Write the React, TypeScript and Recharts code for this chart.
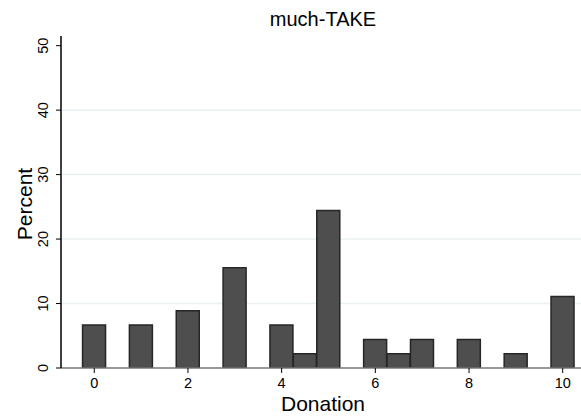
import { ComposedChart, Bar, XAxis, YAxis, CartesianGrid } from 'recharts'

const donations = [0, 1, 2, 3, 4, 4.5, 5, 6, 6.5, 7, 8, 9, 10]
const percents = [6.67, 6.67, 8.89, 15.56, 6.67, 2.22, 24.44, 4.44, 2.22, 4.44, 4.44, 2.22, 11.11]
const xTicks = [0, 2, 4, 6, 8, 10]
const yTicks = [0, 10, 20, 30, 40, 50]
const gridValues = [10, 20, 30, 40]

const data = donations.map((d, i) => ({ donation: d, percent: percents[i] }))

const font = 'Liberation Sans, Arial, sans-serif'

function YTick(props: any) {
    const { y, payload } = props
    const cx = 43
    return (
        <text
            x={cx}
            y={y}
            transform={`rotate(-90 ${cx} ${y})`}
            textAnchor="middle"
            dominantBaseline="central"
            fontSize={14.5}
            fontFamily={font}
            fill="#000"
        >
            {payload.value}
        </text>
    )
}

export default function App() {
    return (
        <div style={{ position: 'fixed', left: 0, top: 0, width: 581, height: 419, background: '#fff' }}>
            <div
                style={{
                    position: 'absolute', top: 8, left: 61, width: 524, textAlign: 'center',
                    fontFamily: font, fontSize: 20, lineHeight: '22px', color: '#000'
                }}
            >
                much-TAKE
            </div>
            <div
                style={{
                    position: 'absolute', top: 393, left: 61, width: 524, textAlign: 'center',
                    fontFamily: font, fontSize: 21, lineHeight: '22px', color: '#000'
                }}
            >
                Donation
            </div>
            <div
                style={{
                    position: 'absolute', left: 14, top: 204, width: 0, height: 0,
                    fontFamily: font, fontSize: 21, lineHeight: '22px', color: '#000'
                }}
            >
                <div style={{ position: 'absolute', transform: 'translate(-50%, -50%) rotate(-90deg)', left: 11, top: 0, whiteSpace: 'nowrap' }}>
                    Percent
                </div>
            </div>
            <ComposedChart
                width={581}
                height={419}
                data={data}
                margin={{ top: 36, right: 0, bottom: 0, left: 0 }}
                barCategoryGap={0}
                barGap={0}
                style={{ position: 'absolute', left: 0, top: 0 }}
            >
                <CartesianGrid
                    vertical={false}
                    horizontalValues={gridValues}
                    stroke="#eaf1f2"
                    strokeWidth={1.5}
                />
                <XAxis
                    dataKey="donation"
                    type="number"
                    domain={[-0.71, 10.39]}
                    ticks={xTicks}
                    allowDataOverflow
                    height={51}
                    axisLine={{ stroke: '#777', strokeWidth: 1.5 }}
                    tickLine={{ stroke: '#000' }}
                    tickSize={5}
                    tickMargin={5}
                    tick={{ fontSize: 14.5, fontFamily: font, fill: '#000' }}
                />
                <YAxis
                    type="number"
                    domain={[0, 51.5]}
                    ticks={yTicks}
                    allowDataOverflow
                    width={61}
                    axisLine={{ stroke: '#000', strokeWidth: 1.5 }}
                    tickLine={{ stroke: '#000' }}
                    tickSize={5}
                    tick={<YTick />}
                />
                <Bar
                    dataKey="percent"
                    fill="#4e4e4e"
                    stroke="#262626"
                    strokeWidth={1.5}
                    isAnimationActive={false}
                />
            </ComposedChart>
        </div>
    )
}
